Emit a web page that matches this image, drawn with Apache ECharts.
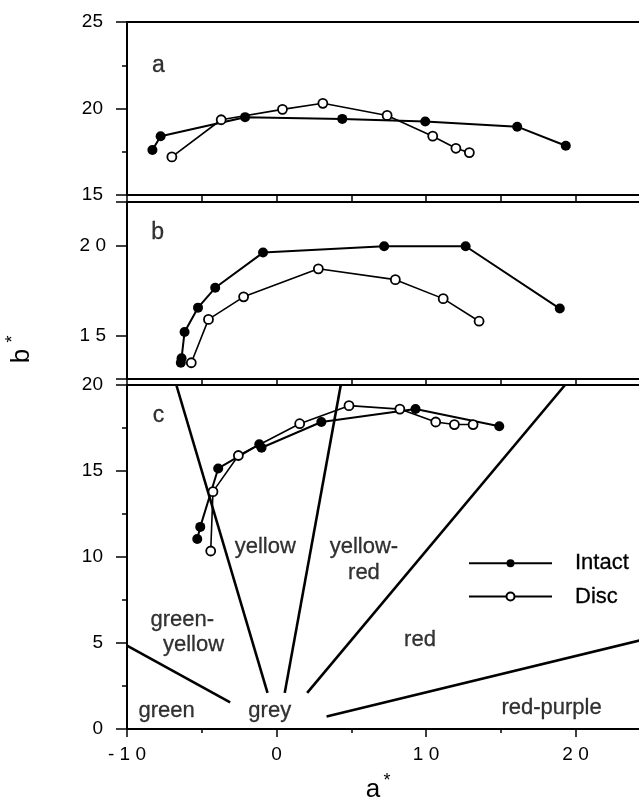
<!DOCTYPE html>
<html>
<head>
<meta charset="utf-8">
<script src="https://cdn.jsdelivr.net/npm/echarts@6/dist/echarts.min.js"></script>
<style>
  html, body { margin: 0; padding: 0; background: #fff; }
  #chart { width: 639px; height: 802px; }
</style>
</head>
<body>
<div id="chart"></div>
<script>
// a* / b* values
const aIntact = [[-8.3, 17.6], [-7.75, 18.4], [-2.1, 19.5], [4.4, 19.4], [9.95, 19.25], [16.1, 18.95], [19.35, 17.85]];
const aDisc = [[-7.0, 17.2], [-3.7, 19.35], [0.4, 19.95], [3.1, 20.3], [7.4, 19.6], [10.45, 18.4], [12.0, 17.7], [12.9, 17.45]];

const bIntact = [[-6.4, 13.5], [-6.35, 13.75], [-6.15, 15.2], [-5.25, 16.55], [-4.1, 17.65], [-0.9, 19.6], [7.2, 19.95], [12.65, 19.95], [18.95, 16.5]];
const bDisc = [[-5.7, 13.5], [-4.55, 15.9], [-2.2, 17.15], [2.8, 18.7], [7.95, 18.1], [11.15, 17.05], [13.55, 15.8]];

const cIntact = [[-5.3, 11.05], [-5.1, 11.75], [-3.9, 15.15], [-1.15, 16.55], [-1.0, 16.35], [3.0, 17.85], [9.3, 18.6], [14.9, 17.6]];
const cDisc = [[-4.4, 10.35], [-4.25, 13.8], [-2.55, 15.9], [1.55, 17.75], [4.85, 18.8], [8.25, 18.6], [10.65, 17.85], [11.9, 17.7], [13.15, 17.7]];

// hue region boundaries in panel c
const hueLines = [
  [[-6.7, 20], [-0.6, 2.1]],
  [[4.3, 20], [0.55, 2.1]],
  [[19.3, 20], [2.05, 2.1]],
  [[-10, 4.85], [-3.1, 1.55]],
  [[3.35, 0.73], [25, 5.3]]
];
const hueLabels = [
  [-0.75, 10.6, 'yellow'],
  [5.85, 10.6, 'yellow-'],
  [5.85, 9.05, 'red'],
  [-6.3, 6.35, 'green-'],
  [-5.55, 4.9, 'yellow'],
  [9.6, 5.2, 'red'],
  [-7.35, 1.05, 'green'],
  [-0.45, 1.05, 'grey'],
  [18.4, 1.2, 'red-purple']
];
const panelLabels = [
  [[-7.9, 22.5, 'a']],
  [[-7.95, 20.7, 'b']],
  [[-7.9, 18.2, 'c']]
];

const FONT = '"Liberation Sans", Arial, sans-serif';
const spaced = v => String(v).split('').join(' ');

const grids = [
  { left: 127, top: 22, width: 598, height: 173 },
  { left: 127, top: 202, width: 598, height: 177 },
  { left: 127, top: 385, width: 598, height: 344 }
];

const xAxes = grids.map((g, i) => ({
  type: 'value',
  gridIndex: i,
  min: -10,
  max: 30,
  interval: 10,
  axisLine: { onZero: false, lineStyle: { color: '#000', width: 2 } },
  axisTick: { length: i === 2 ? 8 : 6, lineStyle: { color: '#000', width: 1.5 } },
  minorTick: { show: true, splitNumber: 2, length: i === 2 ? 4 : 6, lineStyle: { color: '#000', width: 1.5 } },
  axisLabel: {
    show: i === 2,
    color: '#000',
    fontFamily: FONT,
    fontSize: 19,
    margin: 16,
    formatter: spaced
  },
  splitLine: { show: false }
}));

const yCommon = {
  type: 'value',
  axisLine: { show: true, onZero: false, lineStyle: { color: '#000', width: 2 } },
  axisTick: { length: 11, lineStyle: { color: '#000', width: 1.5 } },
  minorTick: { show: true, splitNumber: 2, length: 5, lineStyle: { color: '#000', width: 1.5 } },
  axisLabel: { color: '#000', fontFamily: FONT, fontSize: 19, margin: 24 },
  splitLine: { show: false }
};

const yAxes = [
  Object.assign({}, yCommon, { gridIndex: 0, min: 15, max: 25, interval: 5 }),
  Object.assign({}, yCommon, {
    gridIndex: 1, min: 12.6, max: 22.4,
    minorTick: { show: false },
    axisTick: { length: 11, customValues: [12.6, 15, 20, 22.4], lineStyle: { color: '#000', width: 1.5 } },
    axisLabel: { color: '#000', fontFamily: FONT, fontSize: 19, margin: 21, customValues: [15, 20], formatter: spaced }
  }),
  {
    type: 'value', gridIndex: 1, min: 12.6, max: 22.4,
    axisLine: { show: false, onZero: false },
    axisTick: { show: true, length: 5, customValues: [17.5], lineStyle: { color: '#000', width: 1.5 } },
    axisLabel: { show: false },
    splitLine: { show: false }
  },
  Object.assign({}, yCommon, { gridIndex: 2, min: 0, max: 20, interval: 5 })
];

const yIndexOf = [0, 1, 3];

const dataSeries = (name, data, panel) => ({
  name: name,
  type: 'line',
  xAxisIndex: panel,
  yAxisIndex: yIndexOf[panel],
  data: data,
  symbol: 'circle',
  symbolSize: name === 'Intact' ? 10 : 9,
  z: name === 'Intact' ? 4 : 5,
  lineStyle: { color: '#000', width: name === 'Intact' ? 2 : 1.6 },
  itemStyle: name === 'Intact'
    ? { color: '#000' }
    : { color: '#fff', borderColor: '#000', borderWidth: 1.8 },
  emphasis: { disabled: true },
  animation: false
});

const textSeries = (data, panel, size) => ({
  type: 'scatter',
  xAxisIndex: panel,
  yAxisIndex: yIndexOf[panel],
  data: data,
  symbolSize: 1,
  itemStyle: { color: 'rgba(0,0,0,0)' },
  silent: true,
  z: 6,
  label: {
    show: true,
    position: 'inside',
    formatter: p => p.data[2],
    color: '#000',
    fontFamily: FONT,
    fontSize: size,
    textBorderColor: '#000',
    textBorderWidth: 0.3
  }
});

const series = [];
hueLines.forEach(seg => {
  series.push({
    type: 'line',
    xAxisIndex: 2,
    yAxisIndex: 3,
    data: seg,
    symbol: 'none',
    silent: true,
    z: 2,
    lineStyle: { color: '#000', width: 2.6 }
  });
});
series.push(dataSeries('Intact', aIntact, 0), dataSeries('Disc', aDisc, 0));
series.push(dataSeries('Intact', bIntact, 1), dataSeries('Disc', bDisc, 1));
series.push(dataSeries('Intact', cIntact, 2), dataSeries('Disc', cDisc, 2));
panelLabels.forEach((d, i) => series.push(textSeries(d, i, 23)));
series.push(textSeries(hueLabels, 2, 22));

const chart = echarts.init(document.getElementById('chart'));
chart.setOption({
  backgroundColor: '#fff',
  animation: false,
  grid: grids.map(g => Object.assign({
    show: true, borderColor: '#000', borderWidth: 2, backgroundColor: 'transparent',
    containLabel: false, outerBoundsMode: 'none'
  }, g)),
  xAxis: xAxes,
  yAxis: yAxes,
  legend: {
    data: ['Intact', 'Disc'],
    orient: 'vertical',
    left: 468,
    top: 552,
    padding: 0,
    itemWidth: 83,
    itemHeight: 10,
    itemGap: 11,
    selectedMode: false,
    textStyle: { color: '#000', fontFamily: FONT, fontSize: 22, padding: [0, 0, 0, 18], textBorderColor: '#000', textBorderWidth: 0.3 }
  },
  graphic: [
    { type: 'text', x: 373, y: 790, style: { text: 'a', fontFamily: FONT, fontSize: 26, fill: '#000', align: 'center', verticalAlign: 'middle' } },
    { type: 'text', x: 387, y: 781, style: { text: '*', fontFamily: FONT, fontSize: 18, fill: '#000', align: 'center', verticalAlign: 'middle' } },
    { type: 'text', x: 22, y: 356, rotation: Math.PI / 2, style: { text: 'b', fontFamily: FONT, fontSize: 26, fill: '#000', align: 'center', verticalAlign: 'middle' } },
    { type: 'text', x: 13, y: 339, rotation: Math.PI / 2, style: { text: '*', fontFamily: FONT, fontSize: 18, fill: '#000', align: 'center', verticalAlign: 'middle' } }
  ],
  series: series
});
</script>
</body>
</html>
